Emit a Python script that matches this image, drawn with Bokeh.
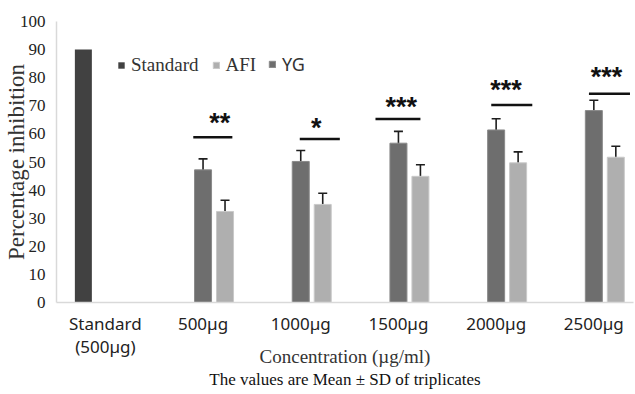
import math
from bokeh.plotting import figure
from bokeh.models import (ColumnDataSource, Range1d, Whisker, TeeHead, Legend,
                          LegendItem, FixedTicker, Title)
from bokeh.core.properties import value
from bokeh.transform import dodge
from bokeh.embed import file_html
from bokeh.resources import INLINE

# ---------------- data ----------------
categories = ["Standard\n(500µg)", "500µg", "1000µg", "1500µg", "2000µg", "2500µg"]
standard_value = [90]
yg_values = [47.2, 50.2, 56.7, 61.4, 68.3]
yg_sd = [3.9, 3.9, 4.2, 4.0, 3.7]
afi_values = [32.4, 34.9, 44.9, 49.7, 51.7]
afi_sd = [4.0, 4.0, 4.1, 3.9, 3.9]
sig_labels = ["**", "*", "***", "***", "***"]
sig_line_y = [58.8, 58.2, 65.3, 70.3, 74.3]
sig_star_y = [65.0, 63.0, 70.6, 76.6, 81.3]
y_ticks = list(range(0, 101, 10))

# ---------------- layout / style ----------------
sig_line_start = [-0.10, -0.01, -0.235, -0.05, -0.05]
sig_line_end = [0.30, 0.40, 0.225, 0.37, 0.37]
sig_star_off = [0.17, 0.16, 0.03, 0.10, 0.13]
SLOT = 0.225
BAR_W = 0.174

idx = list(range(len(categories)))
grp_idx = idx[1:]

std_src = ColumnDataSource(dict(x=[idx[0]], top=standard_value))
yg_src = ColumnDataSource(dict(
    x=grp_idx, top=yg_values,
    upper=[v + s for v, s in zip(yg_values, yg_sd)],
    lower=[v - s for v, s in zip(yg_values, yg_sd)]))
afi_src = ColumnDataSource(dict(
    x=grp_idx, top=afi_values,
    upper=[v + s for v, s in zip(afi_values, afi_sd)],
    lower=[v - s for v, s in zip(afi_values, afi_sd)]))
sig_src = ColumnDataSource(dict(
    x0=[i + o for i, o in zip(grp_idx, sig_line_start)],
    x1=[i + o for i, o in zip(grp_idx, sig_line_end)],
    y=sig_line_y,
    xs=[i + o for i, o in zip(grp_idx, sig_star_off)],
    ys=sig_star_y,
    label=sig_labels))

p = figure(width=635, height=394,
           x_range=Range1d(-0.5, 5.406), y_range=Range1d(0, 100),
           output_backend="svg", toolbar_location=None,
           min_border_left=56, min_border_right=2,
           min_border_top=21, min_border_bottom=92)
p.outline_line_color = None
p.xgrid.grid_line_color = None
p.ygrid.grid_line_color = None
p.background_fill_color = "white"
p.border_fill_color = "white"

r_std = p.vbar(x=dodge("x", -SLOT), top="top", width=BAR_W, source=std_src,
               fill_color="#414141", line_color=None)
r_yg = p.vbar(x="x", top="top", width=BAR_W, source=yg_src,
              fill_color="#6e6e6e", line_color="#8a8a8a", line_width=1)
r_afi = p.vbar(x=dodge("x", SLOT), top="top", width=BAR_W, source=afi_src,
               fill_color="#afafaf", line_color="#c9c9c9", line_width=1)

for src, off in ((yg_src, 0.0), (afi_src, SLOT)):
    w = Whisker(base=dodge("x", off), upper="upper", lower="lower", source=src,
                line_color="#1e1e1e", line_width=1.6,
                upper_head=TeeHead(size=9, line_color="#1e1e1e", line_width=1.6),
                lower_head=TeeHead(size=9, line_color="#1e1e1e", line_width=1.6))
    p.add_layout(w)

p.segment(x0="x0", x1="x1", y0="y", y1="y", source=sig_src,
          line_color="#111111", line_width=2.5)
p.text(x="xs", y="ys", text="label", source=sig_src,
       text_font=value("Liberation Sans"), text_font_style="bold",
       text_font_size="27px", text_align="center", text_baseline="alphabetic",
       y_offset=3, text_color="#111111")

# axes
p.xaxis.ticker = FixedTicker(ticks=idx)
p.xaxis.major_label_overrides = {i: c for i, c in zip(idx, categories)}
p.xaxis.major_label_text_font = "Noto Sans"
p.xaxis.major_label_text_font_size = "17px"
p.xaxis.major_label_text_color = "#222222"
p.xaxis.major_label_text_line_height = 1.0
p.xaxis.major_label_standoff = 3
p.xaxis.axis_label = "Concentration (µg/ml)"
p.xaxis.axis_label_text_font = "Liberation Serif"
p.xaxis.axis_label_text_font_style = "normal"
p.xaxis.axis_label_text_font_size = "19px"
p.xaxis.axis_label_text_color = "#333333"
p.xaxis.axis_label_standoff = -15

p.yaxis.ticker = FixedTicker(ticks=y_ticks)
p.yaxis.major_label_text_font = "Liberation Sans Narrow"
p.yaxis.major_label_text_font_size = "17px"
p.yaxis.major_label_text_color = "#222222"
p.yaxis.major_label_standoff = 5
p.yaxis.axis_label = "Percentage inhibition"
p.yaxis.axis_label_text_font = "Liberation Serif"
p.yaxis.axis_label_text_font_style = "normal"
p.yaxis.axis_label_text_font_size = "23px"
p.yaxis.axis_label_text_color = "#333333"
p.yaxis.axis_label_standoff = -12

for ax in (p.xaxis[0], p.yaxis[0]):
    ax.axis_line_color = "#d9d9d9"
    ax.axis_line_width = 1.5
    ax.major_tick_line_color = None
    ax.minor_tick_line_color = None

# caption
p.add_layout(Title(text="The values are Mean ± SD of triplicates", align="center",
                   text_font="Liberation Serif", text_font_style="normal",
                   text_font_size="17px", text_color="#111111",
                   standoff=-4, offset=5), "below")

# legends
leg1 = Legend(items=[LegendItem(label="Standard", renderers=[r_std]),
                     LegendItem(label="AFI", renderers=[r_afi])],
              location=(61, 226), orientation="horizontal",
              label_text_font="Liberation Serif", label_text_font_size="19px",
              label_text_color="#333333", glyph_width=8, glyph_height=8,
              label_standoff=6, spacing=13, padding=0, margin=0,
              border_line_color=None, background_fill_alpha=0)
leg2 = Legend(items=[LegendItem(label="YG", renderers=[r_yg])],
              location=(212, 226), orientation="horizontal",
              label_text_font="Noto Sans", label_text_font_size="18px",
              label_text_color="#333333", glyph_width=8, glyph_height=8,
              label_standoff=6, padding=0, margin=0,
              border_line_color=None, background_fill_alpha=0)
p.add_layout(leg1)
p.add_layout(leg2)

open("out.html", "w").write(file_html(p, INLINE))
